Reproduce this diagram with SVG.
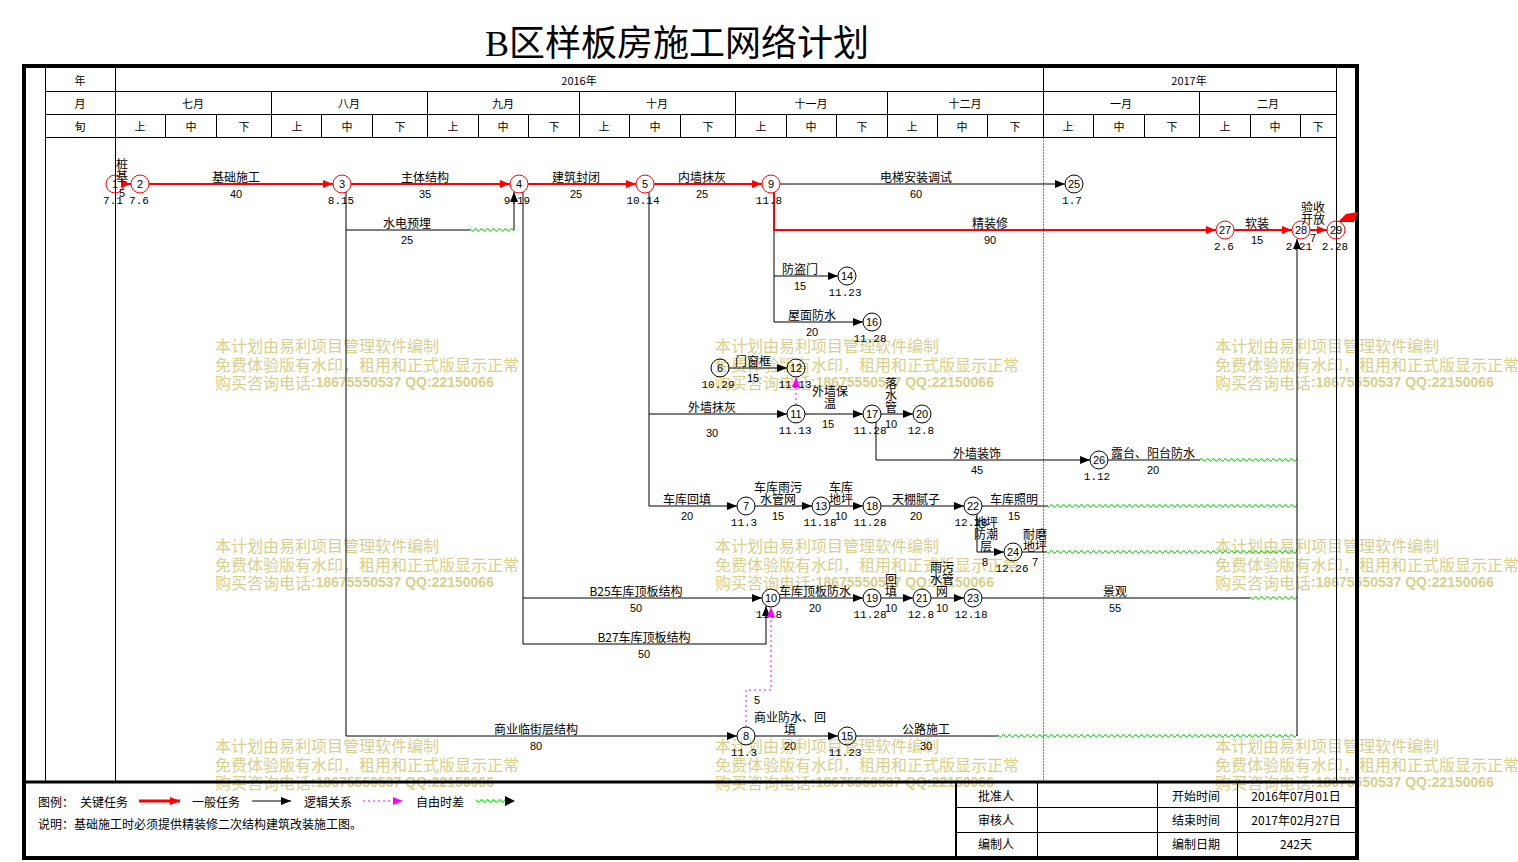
<svg xmlns="http://www.w3.org/2000/svg" width="1518" height="862" viewBox="0 0 1518 862">
<style>
text{font-family:"Noto Sans CJK SC","Liberation Sans",sans-serif;fill:#000}
.t{font-size:12px;text-anchor:middle;dominant-baseline:central}
.h{font-size:11px;text-anchor:middle;dominant-baseline:central}
.n{font-family:"Liberation Sans",sans-serif;font-size:11px;text-anchor:middle;dominant-baseline:central}
.d{font-family:"Liberation Mono",monospace;font-size:11px;text-anchor:middle;dominant-baseline:central}
.l{font-size:12px;dominant-baseline:central}
.w{font-size:16px;fill:#d8d08c;dominant-baseline:central}
.wb{font-family:"Liberation Sans",sans-serif;font-weight:bold;font-size:14px;fill:#d8d08c}
.thin{stroke:#000;stroke-width:1;fill:none}
.crit{fill:none;stroke:#ff0000;stroke-width:2}
.norm{fill:none;stroke:#000;stroke-width:1}
.logic{fill:none;stroke:#ff00ff;stroke-width:1;stroke-dasharray:2,3}
.nc{fill:none;stroke:#000;stroke-width:1}
.rc{fill:none;stroke:#ff0000;stroke-width:1}
.wv{fill:url(#wave)}
</style>
<defs>
<marker id="ab" markerUnits="userSpaceOnUse" markerWidth="10" markerHeight="8" refX="10" refY="4" orient="auto"><path d="M0,0L10,4L0,8z" fill="#000"/></marker>
<marker id="ar" markerUnits="userSpaceOnUse" markerWidth="10" markerHeight="8" refX="10" refY="4" orient="auto"><path d="M0,0L10,4L0,8z" fill="#ff0000"/></marker>
<marker id="am" markerUnits="userSpaceOnUse" markerWidth="10" markerHeight="8" refX="10" refY="4" orient="auto"><path d="M0,0L10,4L0,8z" fill="#ff00ff"/></marker>
<pattern id="wave" patternUnits="userSpaceOnUse" x="0" y="-3" width="6" height="6"><path d="M0,3 Q1.5,0.6 3,3 T6,3" fill="none" stroke="#00e000" stroke-width="1.1"/></pattern>
</defs>
<rect width="1518" height="862" fill="#fff"/>

<text x="677" y="44" font-size="36" text-anchor="middle" dominant-baseline="central" style="font-family:'Liberation Serif','Noto Sans CJK SC',serif">B区样板房施工网络计划</text>

<g id="watermarks">
<text class="w" x="215" y="345">本计划由易利项目管理软件编制</text>
<text class="w" x="215" y="364">免费体验版有水印，租用和正式版显示正常</text>
<text class="w" x="215" y="382">购买咨询电话<tspan class="wb">:18675550537 QQ:22150066</tspan></text>
<text class="w" x="715" y="345">本计划由易利项目管理软件编制</text>
<text class="w" x="715" y="364">免费体验版有水印，租用和正式版显示正常</text>
<text class="w" x="715" y="382">购买咨询电话<tspan class="wb">:18675550537 QQ:22150066</tspan></text>
<text class="w" x="1215" y="345">本计划由易利项目管理软件编制</text>
<text class="w" x="1215" y="364">免费体验版有水印，租用和正式版显示正常</text>
<text class="w" x="1215" y="382">购买咨询电话<tspan class="wb">:18675550537 QQ:22150066</tspan></text>
<text class="w" x="215" y="545">本计划由易利项目管理软件编制</text>
<text class="w" x="215" y="564">免费体验版有水印，租用和正式版显示正常</text>
<text class="w" x="215" y="582">购买咨询电话<tspan class="wb">:18675550537 QQ:22150066</tspan></text>
<text class="w" x="715" y="545">本计划由易利项目管理软件编制</text>
<text class="w" x="715" y="564">免费体验版有水印，租用和正式版显示正常</text>
<text class="w" x="715" y="582">购买咨询电话<tspan class="wb">:18675550537 QQ:22150066</tspan></text>
<text class="w" x="1215" y="545">本计划由易利项目管理软件编制</text>
<text class="w" x="1215" y="564">免费体验版有水印，租用和正式版显示正常</text>
<text class="w" x="1215" y="582">购买咨询电话<tspan class="wb">:18675550537 QQ:22150066</tspan></text>
<text class="w" x="215" y="745">本计划由易利项目管理软件编制</text>
<text class="w" x="215" y="764">免费体验版有水印，租用和正式版显示正常</text>
<text class="w" x="215" y="782">购买咨询电话<tspan class="wb">:18675550537 QQ:22150066</tspan></text>
<text class="w" x="715" y="745">本计划由易利项目管理软件编制</text>
<text class="w" x="715" y="764">免费体验版有水印，租用和正式版显示正常</text>
<text class="w" x="715" y="782">购买咨询电话<tspan class="wb">:18675550537 QQ:22150066</tspan></text>
<text class="w" x="1215" y="745">本计划由易利项目管理软件编制</text>
<text class="w" x="1215" y="764">免费体验版有水印，租用和正式版显示正常</text>
<text class="w" x="1215" y="782">购买咨询电话<tspan class="wb">:18675550537 QQ:22150066</tspan></text>
</g>

<g id="frame">
<rect x="24" y="66" width="1333" height="792" fill="none" stroke="#000" stroke-width="4"/>
<path class="thin" d="M45.5,66V782 M115.5,66V782 M1336.5,66V782 M45,91.5H1336 M45,114.5H1336 M45,137.5H1336 M1043.5,66V137.5"/>
<path class="thin" d="M1043.5,137.5V782" stroke-dasharray="1,2"/>
<path class="thin" d="M271.5,91.5V137.5 M427.5,91.5V137.5 M579.5,91.5V137.5 M735.5,91.5V137.5 M887.5,91.5V137.5 M1199.5,91.5V137.5"/>
<path class="thin" d="M165.5,114.5V137.5 M216.5,114.5V137.5 M321.5,114.5V137.5 M372.5,114.5V137.5 M478.5,114.5V137.5 M528.5,114.5V137.5 M629.5,114.5V137.5 M680.5,114.5V137.5 M786.5,114.5V137.5 M836.5,114.5V137.5 M937.5,114.5V137.5 M987.5,114.5V137.5 M1093.5,114.5V137.5 M1144.5,114.5V137.5 M1250.5,114.5V137.5 M1300.5,114.5V137.5"/>
<line x1="24" y1="782" x2="1358" y2="782" stroke="#000" stroke-width="3"/>
<text class="h" x="80" y="80">年</text>
<text class="h" x="579" y="80">2016年</text>
<text class="h" x="1189" y="80">2017年</text>
<text class="h" x="80" y="103">月</text>
<text class="h" x="193" y="103">七月</text>
<text class="h" x="349" y="103">八月</text>
<text class="h" x="503" y="103">九月</text>
<text class="h" x="657" y="103">十月</text>
<text class="h" x="811" y="103">十一月</text>
<text class="h" x="965" y="103">十二月</text>
<text class="h" x="1121" y="103">一月</text>
<text class="h" x="1268" y="103">二月</text>
<text class="h" x="80" y="126">旬</text>
<text class="h" x="140" y="126">上</text><text class="h" x="191" y="126">中</text><text class="h" x="244" y="126">下</text>
<text class="h" x="297" y="126">上</text><text class="h" x="347" y="126">中</text><text class="h" x="400" y="126">下</text>
<text class="h" x="453" y="126">上</text><text class="h" x="503" y="126">中</text><text class="h" x="554" y="126">下</text>
<text class="h" x="604" y="126">上</text><text class="h" x="655" y="126">中</text><text class="h" x="708" y="126">下</text>
<text class="h" x="761" y="126">上</text><text class="h" x="811" y="126">中</text><text class="h" x="862" y="126">下</text>
<text class="h" x="912" y="126">上</text><text class="h" x="962" y="126">中</text><text class="h" x="1015" y="126">下</text>
<text class="h" x="1068" y="126">上</text><text class="h" x="1119" y="126">中</text><text class="h" x="1172" y="126">下</text>
<text class="h" x="1225" y="126">上</text><text class="h" x="1275" y="126">中</text><text class="h" x="1318" y="126">下</text>
</g>

<g id="connectors">
<line class="crit" x1="121" y1="184" x2="131" y2="184" marker-end="url(#ar)"/>
<text class="t" x="122" y="163">桩</text><text class="t" x="122" y="175">基</text><text class="n" x="122" y="193">5</text>
<line class="crit" x1="149" y1="184" x2="333" y2="184" marker-end="url(#ar)"/>
<text class="t" x="236" y="176">基础施工</text><text class="n" x="236" y="194">40</text>
<line class="crit" x1="351" y1="184" x2="510" y2="184" marker-end="url(#ar)"/>
<text class="t" x="425" y="176">主体结构</text><text class="n" x="425" y="194">35</text>
<line class="crit" x1="528" y1="184" x2="636" y2="184" marker-end="url(#ar)"/>
<text class="t" x="576" y="176">建筑封闭</text><text class="n" x="576" y="194">25</text>
<line class="crit" x1="654" y1="184" x2="762" y2="184" marker-end="url(#ar)"/>
<text class="t" x="702" y="176">内墙抹灰</text><text class="n" x="702" y="194">25</text>
<path class="norm" d="M774,230V322H863" marker-end="url(#ab)"/>
<path class="norm" d="M774,276H838" marker-end="url(#ab)"/>
<path class="crit" d="M774,192V230H1216" marker-end="url(#ar)"/>
<text class="t" x="990" y="222">精装修</text><text class="n" x="990" y="240">90</text>
<line class="crit" x1="1234" y1="230" x2="1292" y2="230" marker-end="url(#ar)"/>
<text class="t" x="1257" y="222">软装</text><text class="n" x="1257" y="240">15</text>
<line class="crit" x1="1310" y1="230" x2="1327" y2="230" marker-end="url(#ar)"/>
<text class="t" x="1313" y="206">验收</text><text class="t" x="1313" y="218">开放</text><text class="n" x="1313" y="238">7</text>
<polygon points="1338,222 1346,214 1358,212 1354,222" fill="#ff0000"/>
<line class="norm" x1="780" y1="184" x2="1065" y2="184" marker-end="url(#ab)"/>
<text class="t" x="916" y="176">电梯安装调试</text><text class="n" x="916" y="194">60</text>
<path class="norm" d="M346,192V736H737" marker-end="url(#ab)"/>
<text class="t" x="536" y="728">商业临街层结构</text><text class="n" x="536" y="746">80</text>
<path class="norm" d="M346,230H470"/>
<g transform="translate(0,230)"><rect class="wv" x="470" y="-3" width="44" height="6"/></g>
<path class="norm" d="M514,230V192" marker-end="url(#ab)"/>
<text class="t" x="407" y="222">水电预埋</text><text class="n" x="407" y="240">25</text>
<path class="norm" d="M523,192V644H766V606" marker-end="url(#ab)"/>
<text class="t" x="644" y="636">B27车库顶板结构</text><text class="n" x="644" y="654">50</text>
<path class="norm" d="M523,598H762" marker-end="url(#ab)"/>
<text class="t" x="636" y="590">B25车库顶板结构</text><text class="n" x="636" y="608">50</text>
<path class="norm" d="M649,192V506H737" marker-end="url(#ab)"/>
<text class="t" x="687" y="498">车库回填</text><text class="n" x="687" y="516">20</text>
<path class="norm" d="M649,414H787" marker-end="url(#ab)"/>
<text class="t" x="712" y="406">外墙抹灰</text><text class="n" x="712" y="433">30</text>
<text class="t" x="800" y="268">防盗门</text><text class="n" x="800" y="286">15</text>
<text class="t" x="812" y="314">屋面防水</text><text class="n" x="812" y="332">20</text>
<line class="norm" x1="729" y1="368" x2="787" y2="368" marker-end="url(#ab)"/>
<text class="t" x="753" y="360">门窗框</text><text class="n" x="753" y="378">15</text>
<path class="logic" d="M796,405V377" marker-end="url(#am)"/>
<line class="norm" x1="805" y1="414" x2="863" y2="414" marker-end="url(#ab)"/>
<text class="t" x="830" y="390">外墙保</text><text class="t" x="830" y="402">温</text><text class="n" x="828" y="424">15</text>
<line class="norm" x1="881" y1="414" x2="913" y2="414" marker-end="url(#ab)"/>
<text class="t" x="891" y="382">落</text><text class="t" x="891" y="394">水</text><text class="t" x="891" y="406">管</text><text class="n" x="891" y="424">10</text>
<path class="norm" d="M876,422V460H1090" marker-end="url(#ab)"/>
<text class="t" x="977" y="452">外墙装饰</text><text class="n" x="977" y="470">45</text>
<path class="norm" d="M1108,460H1200"/>
<g transform="translate(0,460)"><rect class="wv" x="1200" y="-3" width="97" height="6"/></g>
<text class="t" x="1153" y="452">露台、阳台防水</text><text class="n" x="1153" y="470">20</text>
<line class="norm" x1="755" y1="506" x2="812" y2="506" marker-end="url(#ab)"/>
<text class="t" x="778" y="486">车库雨污</text><text class="t" x="778" y="498">水管网</text><text class="n" x="778" y="516">15</text>
<line class="norm" x1="830" y1="506" x2="863" y2="506" marker-end="url(#ab)"/>
<text class="t" x="841" y="486">车库</text><text class="t" x="841" y="498">地坪</text><text class="n" x="841" y="516">10</text>
<line class="norm" x1="881" y1="506" x2="964" y2="506" marker-end="url(#ab)"/>
<text class="t" x="916" y="498">天棚腻子</text><text class="n" x="916" y="516">20</text>
<path class="norm" d="M982,506H1048"/>
<g transform="translate(0,506)"><rect class="wv" x="1048" y="-3" width="249" height="6"/></g>
<text class="t" x="1014" y="498">车库照明</text><text class="n" x="1014" y="516">15</text>
<path class="norm" d="M977,514V552H1004" marker-end="url(#ab)"/>
<text class="t" x="986" y="521">地坪</text><text class="t" x="986" y="533">防潮</text><text class="t" x="986" y="545">层</text><text class="n" x="985" y="562">8</text>
<path class="norm" d="M1022,552H1046"/>
<g transform="translate(0,552)"><rect class="wv" x="1046" y="-3" width="251" height="6"/></g>
<text class="t" x="1035" y="533">耐磨</text><text class="t" x="1035" y="545">地坪</text><text class="n" x="1035" y="562">7</text>
<line class="norm" x1="780" y1="598" x2="863" y2="598" marker-end="url(#ab)"/>
<text class="t" x="815" y="590">车库顶板防水</text><text class="n" x="815" y="608">20</text>
<line class="norm" x1="881" y1="598" x2="913" y2="598" marker-end="url(#ab)"/>
<text class="t" x="891" y="578">回</text><text class="t" x="891" y="590">填</text><text class="n" x="891" y="608">10</text>
<line class="norm" x1="931" y1="598" x2="964" y2="598" marker-end="url(#ab)"/>
<text class="t" x="942" y="566">雨污</text><text class="t" x="942" y="578">水管</text><text class="t" x="942" y="590">网</text><text class="n" x="942" y="608">10</text>
<path class="norm" d="M982,598H1250"/>
<g transform="translate(0,598)"><rect class="wv" x="1250" y="-3" width="47" height="6"/></g>
<text class="t" x="1115" y="590">景观</text><text class="n" x="1115" y="608">55</text>
<line class="norm" x1="755" y1="736" x2="838" y2="736" marker-end="url(#ab)"/>
<text class="t" x="790" y="716">商业防水、回</text><text class="t" x="790" y="728">填</text><text class="n" x="790" y="746">20</text>
<path class="norm" d="M856,736H998"/>
<g transform="translate(0,736)"><rect class="wv" x="998" y="-3" width="299" height="6"/></g>
<path class="norm" d="M1297,736V239" marker-end="url(#ab)"/>
<text class="t" x="926" y="728">公路施工</text><text class="n" x="926" y="746">30</text>
<path class="logic" d="M746,727V690H771V607" marker-end="url(#am)"/>
<text class="n" x="757" y="700">5</text>
</g>

<g id="node-1"><circle class="rc" cx="115" cy="184" r="9"/><text class="n" x="115" y="184">1</text><text class="d" x="113" y="201">7.1</text></g>
<g id="node-2"><circle class="rc" cx="140" cy="184" r="9"/><text class="n" x="140" y="184">2</text><text class="d" x="139" y="201">7.6</text></g>
<g id="node-3"><circle class="rc" cx="342" cy="184" r="9"/><text class="n" x="342" y="184">3</text><text class="d" x="341" y="201">8.15</text></g>
<g id="node-4"><circle class="rc" cx="519" cy="184" r="9"/><text class="n" x="519" y="184">4</text><text class="d" x="517" y="201">9.19</text></g>
<g id="node-5"><circle class="rc" cx="645" cy="184" r="9"/><text class="n" x="645" y="184">5</text><text class="d" x="643" y="201">10.14</text></g>
<g id="node-9"><circle class="rc" cx="771" cy="184" r="9"/><text class="n" x="771" y="184">9</text><text class="d" x="769" y="201">11.8</text></g>
<g id="node-25"><circle class="nc" cx="1074" cy="184" r="9"/><text class="n" x="1074" y="184">25</text><text class="d" x="1072" y="201">1.7</text></g>
<g id="node-27"><circle class="rc" cx="1225" cy="230" r="9"/><text class="n" x="1225" y="230">27</text><text class="d" x="1224" y="247">2.6</text></g>
<g id="node-28"><circle class="rc" cx="1301" cy="230" r="9"/><text class="n" x="1301" y="230">28</text><text class="d" x="1299" y="247">2.21</text></g>
<g id="node-29"><circle class="rc" cx="1336" cy="230" r="9"/><text class="n" x="1336" y="230">29</text><text class="d" x="1335" y="247">2.28</text></g>
<g id="node-14"><circle class="nc" cx="847" cy="276" r="9"/><text class="n" x="847" y="276">14</text><text class="d" x="845" y="293">11.23</text></g>
<g id="node-16"><circle class="nc" cx="872" cy="322" r="9"/><text class="n" x="872" y="322">16</text><text class="d" x="870" y="339">11.28</text></g>
<g id="node-6"><circle class="nc" cx="720" cy="368" r="9"/><text class="n" x="720" y="368">6</text><text class="d" x="718" y="385">10.29</text></g>
<g id="node-12"><circle class="nc" cx="796" cy="368" r="9"/><text class="n" x="796" y="368">12</text><text class="d" x="795" y="385">11.13</text></g>
<g id="node-11"><circle class="nc" cx="796" cy="414" r="9"/><text class="n" x="796" y="414">11</text><text class="d" x="795" y="431">11.13</text></g>
<g id="node-17"><circle class="nc" cx="872" cy="414" r="9"/><text class="n" x="872" y="414">17</text><text class="d" x="870" y="431">11.28</text></g>
<g id="node-20"><circle class="nc" cx="922" cy="414" r="9"/><text class="n" x="922" y="414">20</text><text class="d" x="921" y="431">12.8</text></g>
<g id="node-26"><circle class="nc" cx="1099" cy="460" r="9"/><text class="n" x="1099" y="460">26</text><text class="d" x="1097" y="477">1.12</text></g>
<g id="node-7"><circle class="nc" cx="746" cy="506" r="9"/><text class="n" x="746" y="506">7</text><text class="d" x="744" y="523">11.3</text></g>
<g id="node-13"><circle class="nc" cx="821" cy="506" r="9"/><text class="n" x="821" y="506">13</text><text class="d" x="820" y="523">11.18</text></g>
<g id="node-18"><circle class="nc" cx="872" cy="506" r="9"/><text class="n" x="872" y="506">18</text><text class="d" x="870" y="523">11.28</text></g>
<g id="node-22"><circle class="nc" cx="973" cy="506" r="9"/><text class="n" x="973" y="506">22</text><text class="d" x="971" y="523">12.18</text></g>
<g id="node-24"><circle class="nc" cx="1013" cy="552" r="9"/><text class="n" x="1013" y="552">24</text><text class="d" x="1012" y="569">12.26</text></g>
<g id="node-10"><circle class="nc" cx="771" cy="598" r="9"/><text class="n" x="771" y="598">10</text><text class="d" x="769" y="615">11.8</text></g>
<g id="node-19"><circle class="nc" cx="872" cy="598" r="9"/><text class="n" x="872" y="598">19</text><text class="d" x="870" y="615">11.28</text></g>
<g id="node-21"><circle class="nc" cx="922" cy="598" r="9"/><text class="n" x="922" y="598">21</text><text class="d" x="921" y="615">12.8</text></g>
<g id="node-23"><circle class="nc" cx="973" cy="598" r="9"/><text class="n" x="973" y="598">23</text><text class="d" x="971" y="615">12.18</text></g>
<g id="node-8"><circle class="nc" cx="746" cy="736" r="9"/><text class="n" x="746" y="736">8</text><text class="d" x="744" y="753">11.3</text></g>
<g id="node-15"><circle class="nc" cx="847" cy="736" r="9"/><text class="n" x="847" y="736">15</text><text class="d" x="845" y="753">11.23</text></g>

<g id="legend">
<text class="l" x="38" y="801">图例：</text>
<text class="l" x="80" y="801">关键任务</text>
<line x1="139" y1="801" x2="180" y2="801" stroke="#ff0000" stroke-width="3" marker-end="url(#ar)"/>
<text class="l" x="192" y="801">一般任务</text>
<line x1="252" y1="801" x2="291" y2="801" stroke="#000" stroke-width="1" marker-end="url(#ab)"/>
<text class="l" x="304" y="801">逻辑关系</text>
<line x1="363" y1="801" x2="403" y2="801" class="logic" marker-end="url(#am)"/>
<text class="l" x="416" y="801">自由时差</text>
<g transform="translate(0,801)"><rect class="wv" x="476" y="-3" width="30" height="6"/></g>
<polygon points="505,796 515,801 505,806" fill="#000"/>
<text class="l" x="38" y="823">说明：基础施工时必须提供精装修二次结构建筑改装施工图。</text>
</g>

<g id="info-table">
<line x1="956" y1="782" x2="956" y2="858" stroke="#000" stroke-width="2"/>
<path class="thin" d="M1037.5,782V858 M1157.5,782V858 M1237.5,782V858 M956,807.5H1357 M956,832.5H1357"/>
<text class="t" x="996" y="795">批准人</text>
<text class="t" x="996" y="819">审核人</text>
<text class="t" x="996" y="843">编制人</text>
<text class="t" x="1196" y="795">开始时间</text>
<text class="t" x="1196" y="819">结束时间</text>
<text class="t" x="1196" y="843">编制日期</text>
<text class="t" x="1296" y="795">2016年07月01日</text>
<text class="t" x="1296" y="819">2017年02月27日</text>
<text class="t" x="1296" y="843">242天</text>
</g>
</svg>
